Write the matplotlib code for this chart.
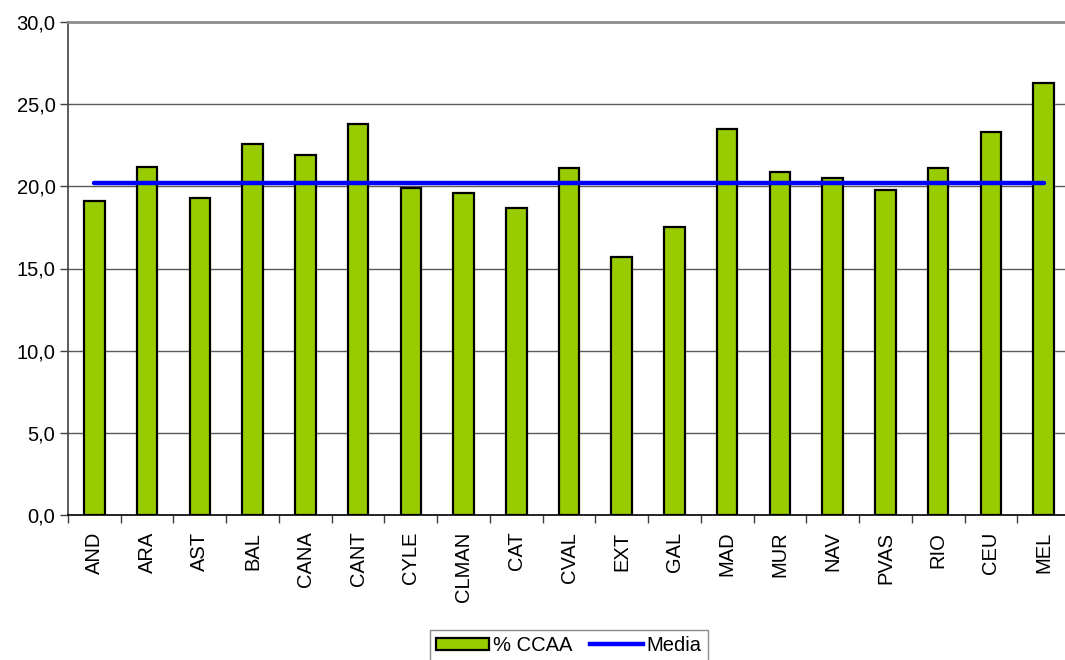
import matplotlib
matplotlib.use("Agg")
import matplotlib.pyplot as plt
import numpy as np
from matplotlib.patches import Patch
from matplotlib.lines import Line2D

plt.rcParams["font.family"] = ["Liberation Sans", "DejaVu Sans"]

# datos
regiones = ["AND", "ARA", "AST", "BAL", "CANA", "CANT", "CYLE", "CLMAN", "CAT", "CVAL",
            "EXT", "GAL", "MAD", "MUR", "NAV", "PVAS", "RIO", "CEU", "MEL"]
pct_ccaa = [19.1, 21.2, 19.3, 22.6, 21.9, 23.8, 19.9, 19.6, 18.7, 21.1,
            15.7, 17.5, 23.5, 20.9, 20.5, 19.8, 21.1, 23.3, 26.3]
media = 20.2
yticks = [0, 5, 10, 15, 20, 25, 30]

BAR_COLOR = "#99cc00"
LINE_COLOR = "#0000ff"
FS = 14.5

fig = plt.figure(figsize=(10.65, 6.6), dpi=100)
ax = fig.add_axes([68 / 1065, 145 / 660, 1002 / 1065, 493 / 660])

x = np.arange(len(regiones))
ax.bar(x, pct_ccaa, width=0.39, color=BAR_COLOR, edgecolor="black", linewidth=1.6, zorder=3)
ax.plot([x[0], x[-1]], [media, media], color=LINE_COLOR, linewidth=3.2,
        solid_capstyle="round", zorder=4)

ax.set_xlim(-0.5, len(regiones) - 0.5)
ax.set_ylim(0, 30)
ax.set_yticks(yticks)
ax.set_yticklabels([f"{v:.1f}".replace(".", ",") for v in yticks], fontsize=FS)
ax.set_xticks(x)
ax.set_xticklabels(regiones, rotation=90, fontsize=FS)
ax.set_xticks(np.arange(len(regiones) + 1) - 0.5, minor=True)
ax.tick_params(axis="x", which="major", length=0, pad=12)
ax.tick_params(axis="x", which="minor", length=6, width=1, color="#404040", direction="out")
ax.tick_params(axis="y", length=6, width=1, color="#404040", pad=3)

for v in yticks[1:-1]:
    ax.axhline(v, color="#5a5a5a", linewidth=1, zorder=1)

ax.spines["right"].set_visible(False)
ax.spines["top"].set_color("#8c8c8c")
ax.spines["top"].set_linewidth(2)
ax.spines["left"].set_color("#404040")
ax.spines["left"].set_linewidth(1.2)
ax.spines["bottom"].set_color("black")
ax.spines["bottom"].set_linewidth(1.2)

handles = [Patch(facecolor=BAR_COLOR, edgecolor="black", linewidth=1.6),
           Line2D([0], [0], color=LINE_COLOR, linewidth=3.2)]
leg = fig.legend(handles, ["% CCAA", "Media"], loc="upper center",
                 bbox_to_anchor=(569 / 1065, 1 - 630 / 660), ncol=2,
                 fontsize=FS, frameon=True, fancybox=False, handlelength=2.6,
                 handleheight=0.6, handletextpad=0.2, columnspacing=0.9,
                 borderpad=0.3, borderaxespad=0)
leg.get_frame().set_edgecolor("#707070")
leg.get_frame().set_linewidth(1)

fig.savefig("out.png", dpi=100)
